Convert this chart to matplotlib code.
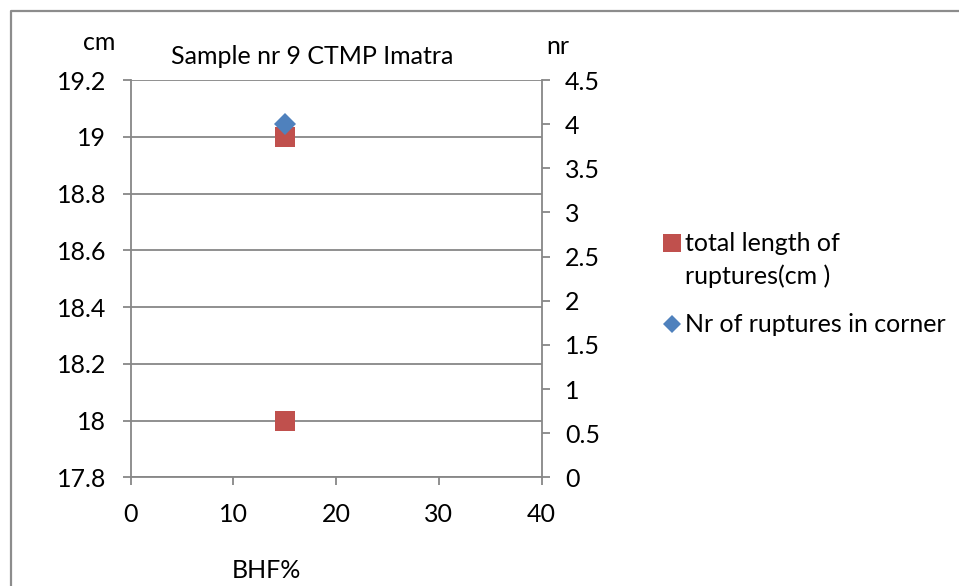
import matplotlib
matplotlib.use("Agg")
import matplotlib.pyplot as plt
from matplotlib.lines import Line2D

plt.rcParams['font.family'] = ['Lato', 'DejaVu Sans']

# Data
bhf_length = [15, 15]
total_length_cm = [19.0, 18.0]
bhf_corner = [15]
ruptures_in_corner = [4]

left_ticks = [17.8, 18.0, 18.2, 18.4, 18.6, 18.8, 19.0, 19.2]
left_tick_labels = ["17.8", "18", "18.2", "18.4", "18.6", "18.8", "19", "19.2"]
right_ticks = [0, 0.5, 1, 1.5, 2, 2.5, 3, 3.5, 4, 4.5]
right_tick_labels = ["0", "0.5", "1", "1.5", "2", "2.5", "3", "3.5", "4", "4.5"]
x_ticks = [0, 10, 20, 30, 40]

title = "Sample nr 9 CTMP Imatra"
label_corner = "Nr of ruptures in corner"

RED = "#C0504D"
BLUE = "#4F81BD"
GRAY = "#878787"
FS = 18

W, H = 959, 586
fig = plt.figure(figsize=(W / 100, H / 100), dpi=100)

def fx(px):
    return px / W

def fy(py):
    return 1 - py / H

ax = fig.add_axes([fx(130.5), fy(477.3), fx(541.5) - fx(130.5), fy(80) - fy(477.3)])
ax2 = ax.twinx()

ax.set_xlim(0, 40)
ax.set_ylim(17.8, 19.2)
ax2.set_ylim(0, 4.5)

ax.set_xticks(x_ticks)
ax.set_xticklabels([str(t) for t in x_ticks])
ax.set_yticks(left_ticks)
ax.set_yticklabels(left_tick_labels)
ax2.set_yticks(right_ticks)
ax2.set_yticklabels(right_tick_labels)

ax.yaxis.grid(True, color=GRAY, linewidth=1.3)
ax.set_axisbelow(True)

for a in (ax, ax2):
    a.spines["top"].set_visible(False)
    for s in a.spines.values():
        s.set_color(GRAY)
        s.set_linewidth(1.3)
ax.spines["right"].set_visible(False)
ax2.spines["left"].set_visible(False)
ax2.spines["bottom"].set_visible(False)

ax.tick_params(axis="both", colors=GRAY, labelcolor="black", labelsize=FS,
               length=5.5, width=1.3, direction="out")
ax.tick_params(axis="y", pad=12)
ax.tick_params(axis="x", pad=13)
ax2.tick_params(axis="y", colors=GRAY, labelcolor="black", labelsize=FS,
                length=6, width=1.3, direction="out", pad=11)

ax.plot(bhf_length, total_length_cm, linestyle="none", marker="s",
        markersize=14.4, color=RED, markeredgewidth=0, clip_on=False, zorder=3)
ax2.plot(bhf_corner, ruptures_in_corner, linestyle="none", marker="D",
         markersize=10.8, color=BLUE, markeredgewidth=0, clip_on=False, zorder=4)

# Titles and axis captions
fig.text(fx(312), fy(57), title, ha="center", va="center", fontsize=FS)
fig.text(fx(99), fy(42), "cm", ha="center", va="center", fontsize=FS)
fig.text(fx(558), fy(46), "nr", ha="center", va="center", fontsize=FS)
fig.text(fx(266), fy(571), "BHF%", ha="center", va="center", fontsize=FS)

# Legend
fig.add_artist(Line2D([fx(672)], [fy(243)], marker="s", markersize=12.5,
                      color=RED, markeredgewidth=0, linestyle="none"))
fig.text(fx(685), fy(243), "total length of", ha="left", va="center", fontsize=FS)
fig.text(fx(685), fy(276), "ruptures(cm )", ha="left", va="center", fontsize=FS)
fig.add_artist(Line2D([fx(672)], [fy(324)], marker="D", markersize=8.8,
                      color=BLUE, markeredgewidth=0, linestyle="none"))
fig.text(fx(685), fy(324), label_corner, ha="left", va="center", fontsize=FS)

# Chart border
fig.add_artist(Line2D([fx(10.5), fx(10.5), fx(W + 5)], [fy(H + 5), fy(11), fy(11)],
                      color="#8C8C8C", linewidth=1.6))

fig.savefig("out.png", dpi=100)
